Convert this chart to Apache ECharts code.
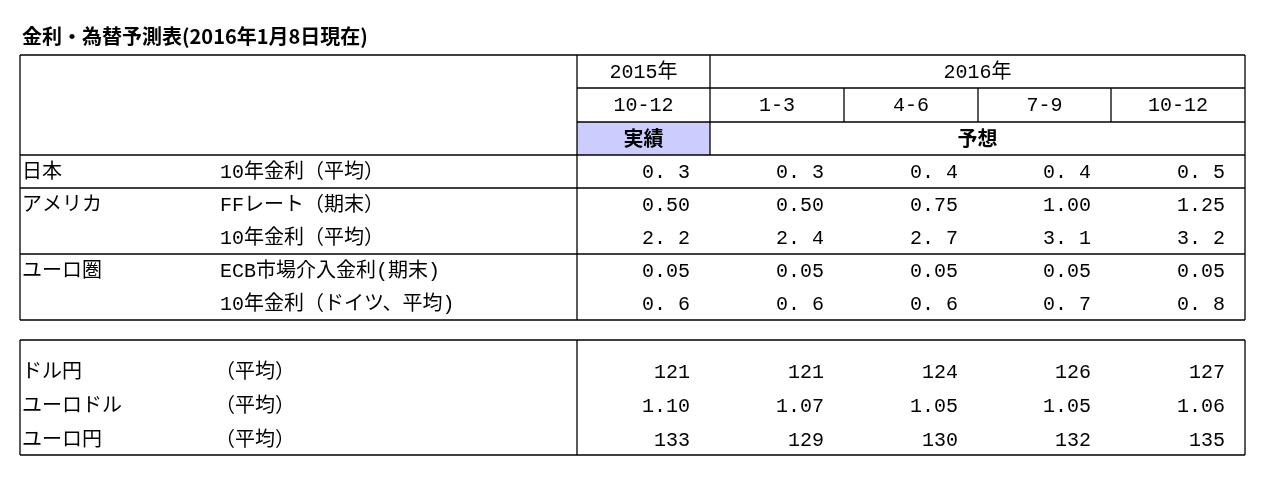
<!DOCTYPE html>
<html><head><meta charset="utf-8">
<script src="https://cdn.jsdelivr.net/npm/echarts@6/dist/echarts.min.js"></script>
<style>html,body{margin:0;background:#fff}#c{width:1276px;height:495px}</style>
</head><body><div id="c"></div>
<script>
const title = '金利・為替予測表(2016年1月8日現在)';
const yearHeaders = ['2015年', '2016年'];
const periods = ['10-12', '1-3', '4-6', '7-9', '10-12'];
const statusLabels = ['実績', '予想'];
const regions = ['日本', 'アメリカ', '', 'ユーロ圏', ''];
const rateItems = ['10年金利（平均）', 'FFレート（期末）', '10年金利（平均）', 'ECB市場介入金利(期末)', '10年金利（ドイツ、平均)'];
const rateValues = [
  ['0.3', '0.3', '0.4', '0.4', '0.5'],
  ['0.50', '0.50', '0.75', '1.00', '1.25'],
  ['2.2', '2.4', '2.7', '3.1', '3.2'],
  ['0.05', '0.05', '0.05', '0.05', '0.05'],
  ['0.6', '0.6', '0.6', '0.7', '0.8']
];
const wideRows = [true, false, true, false, true];
const fxNames = ['ドル円', 'ユーロドル', 'ユーロ円'];
const fxItems = ['（平均）', '（平均）', '（平均）'];
const fxValues = [
  ['121', '121', '124', '126', '127'],
  ['1.10', '1.07', '1.05', '1.05', '1.06'],
  ['133', '129', '130', '132', '135']
];

const L = 20, R = 1245, LBL = 577;
const colX = [577, 710, 844, 978, 1111, 1245];
const hdrY = [55, 88, 122, 155];
const rowH = 33;
const FONT = '"Liberation Mono","DejaVu Sans Mono","Noto Sans CJK JP",monospace';
const g = [];
const line = (x1, y1, x2, y2) => g.push({type: 'line', shape: {x1, y1, x2, y2}, style: {stroke: '#000', lineWidth: 1.3}});
const text = (x, y, t, align, extra) => g.push({type: 'text', x, y, style: Object.assign({text: t, fill: '#000', font: '20px ' + FONT, align: align || 'left', verticalAlign: 'middle'}, extra || {})});

g.push({type: 'text', x: 22, y: 36, style: {text: title, fill: '#000', font: 'bold 20px "Noto Sans CJK JP",sans-serif', verticalAlign: 'middle'}});
g.push({type: 'rect', shape: {x: colX[0], y: hdrY[2], width: colX[1] - colX[0], height: hdrY[3] - hdrY[2]}, style: {fill: '#ccccff'}});
line(L, hdrY[0], R, hdrY[0]);
line(colX[0], hdrY[1], R, hdrY[1]);
line(colX[0], hdrY[2], R, hdrY[2]);
line(L, hdrY[3], R, hdrY[3]);
line(L, hdrY[0], L, hdrY[3]);
line(colX[0], hdrY[0], colX[0], hdrY[3]);
line(colX[1], hdrY[0], colX[1], hdrY[3]);
for (let i = 2; i < 5; i++) line(colX[i], hdrY[1], colX[i], hdrY[2]);
line(R, hdrY[0], R, hdrY[3]);
text((colX[0] + colX[1]) / 2, (hdrY[0] + hdrY[1]) / 2 + 1, yearHeaders[0], 'center');
text((colX[1] + R) / 2, (hdrY[0] + hdrY[1]) / 2 + 1, yearHeaders[1], 'center');
periods.forEach((p, i) => text((colX[i] + colX[i + 1]) / 2, (hdrY[1] + hdrY[2]) / 2 + 1, p, 'center'));
const sb = {font: 'bold 20px "Noto Sans CJK JP",sans-serif'};
text((colX[0] + colX[1]) / 2, (hdrY[2] + hdrY[3]) / 2, statusLabels[0], 'center', sb);
text((colX[1] + R) / 2, (hdrY[2] + hdrY[3]) / 2, statusLabels[1], 'center', sb);

const top1 = hdrY[3];
const groupBreaks = [1, 3, 5];
rateItems.forEach((it, r) => {
  const cy = top1 + r * rowH + rowH / 2 + 1;
  if (regions[r]) text(L + 2, cy, regions[r]);
  text(220, cy, it);
  rateValues[r].forEach((v, i) => text(colX[i + 1] - 20, cy, wideRows[r] ? v.replace('.', '. ') : v, 'right'));
});
groupBreaks.forEach(b => line(L, top1 + b * rowH, R, top1 + b * rowH));
const bot1 = top1 + rateItems.length * rowH;
line(L, top1, L, bot1); line(LBL, top1, LBL, bot1); line(R, top1, R, bot1);

const top2 = 340, bot2 = 455;
line(L, top2, R, top2); line(L, bot2, R, bot2);
line(L, top2, L, bot2); line(LBL, top2, LBL, bot2); line(R, top2, R, bot2);
fxNames.forEach((n, r) => {
  const cy = 373 + r * 34;
  text(L + 2, cy, n);
  text(215, cy, fxItems[r]);
  fxValues[r].forEach((v, i) => text(colX[i + 1] - 20, cy, v, 'right'));
});

const chart = echarts.init(document.getElementById('c'));
chart.setOption({animation: false, graphic: {elements: g}});
</script></body></html>
